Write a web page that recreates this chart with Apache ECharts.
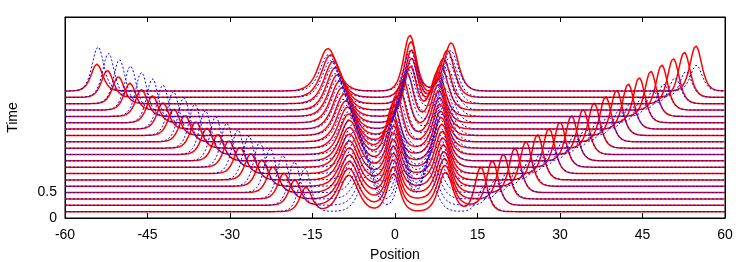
<!DOCTYPE html>
<html>
<head>
<meta charset="utf-8">
<script src="https://cdn.jsdelivr.net/npm/echarts@6/dist/echarts.min.js"></script>
<style>
html,body{margin:0;padding:0;background:#fff;}
#c{width:747px;height:262px;}
</style>
</head>
<body>
<div id="c"></div>
<script>
// ---- data (rows bottom -> top) ----
const rowOffsets = [0.125,0.25,0.375,0.5,0.625,0.75,0.875,1.0,1.125,1.25,1.375,1.5,1.625,1.75,1.875,2.0,2.125,2.25,2.375,2.5];

// red (solid) pulses: peak positions / amplitudes per row
const redLeftPos  = [-16.2,-18.2,-20.2,-22.2,-24.2,-26.2,-28.2,-30.2,-32.2,-34.2,-36.2,-38.2,-40.2,-42.2,-44.1,-46.1,-48.2,-50.3,-52.3,-54.2];
const redLeftAmp  = [0.48,0.50,0.51,0.51,0.52,0.52,0.52,0.52,0.52,0.52,0.52,0.52,0.52,0.52,0.53,0.53,0.53,0.53,0.53,0.53];
const redRightPos = [15.6,17.7,19.7,21.8,23.8,25.9,28.0,30.0,32.1,34.2,36.2,38.3,40.3,42.4,44.4,46.5,48.5,50.6,52.6,54.7];
const redRightAmp = [0.88,0.88,0.88,0.88,0.88,0.89,0.89,0.89,0.89,0.89,0.89,0.89,0.89,0.89,0.89,0.89,0.89,0.89,0.89,0.89];
const redC1Pos = [-8.4,-8.4,-8.3,-8.3,-8.3,-8.3,-8.3,-8.3,-8.3,-8.4,-8.6,-8.9,-9.2,-9.6,-10.0,-10.4,-10.8,-11.2,-11.7,-12.2];
const redC1Amp = [0.72,0.73,0.74,0.75,0.76,0.77,0.78,0.79,0.80,0.80,0.81,0.81,0.82,0.82,0.83,0.83,0.84,0.84,0.84,0.84];
const redC2Pos = [-0.3,-0.3,-0.3,-0.3,-0.3,-0.3,-0.3,-0.3,-0.4,-0.5,-0.3,0.2,0.8,1.5,2.2,2.8,3.0,3.0,2.9,2.7];
const redC2Amp = [0.75,0.76,0.77,0.78,0.79,0.80,0.81,0.82,0.83,0.85,0.88,0.91,0.94,0.96,0.98,0.98,1.02,1.06,1.10,1.10];
const redC3Pos = [9.2,9.1,9.0,8.9,8.8,8.7,8.6,8.5,8.4,8.3,8.2,8.1,8.0,7.9,7.8,7.8,8.3,8.8,9.5,10.2];
const redC3Amp = [0.78,0.79,0.80,0.81,0.82,0.83,0.84,0.85,0.86,0.86,0.87,0.87,0.88,0.88,0.88,0.88,0.89,0.89,0.93,0.95];

// blue (dotted) pulses
const blueLeftPos  = [-16.4,-18.3,-20.4,-22.7,-24.6,-26.6,-28.6,-30.6,-32.6,-34.5,-36.4,-38.4,-40.3,-42.2,-44.1,-46.1,-48.1,-50.1,-52.1,-54.0];
const blueLeftAmp  = [0.86,0.86,0.86,0.87,0.87,0.87,0.87,0.87,0.87,0.87,0.87,0.87,0.87,0.87,0.87,0.87,0.87,0.87,0.87,0.87];
const blueRightPos = [16.2,18.2,20.3,22.3,24.4,26.4,28.5,30.5,32.6,34.6,36.7,38.7,40.8,42.8,44.9,46.9,48.9,50.9,52.9,54.8];
const blueRightAmp = [0.50,0.50,0.51,0.51,0.51,0.51,0.51,0.51,0.51,0.51,0.51,0.51,0.51,0.51,0.51,0.51,0.51,0.51,0.51,0.51];
const blueC1Pos = [-5.0,-5.2,-5.5,-5.8,-6.1,-6.5,-6.9,-7.3,-7.7,-8.1,-8.5,-8.9,-9.3,-9.7,-10.1,-10.5,-10.9,-11.3,-11.7,-12.1];
const blueC2Pos = [1.5,1.4,1.3,1.2,1.0,0.8,0.6,0.4,0.3,0.2,0.4,0.8,1.2,1.6,2.0,2.3,2.5,2.7,2.8,2.8];
const blueC3Pos = [6.0,6.3,6.6,6.9,7.2,7.5,7.8,8.1,8.4,8.6,8.8,8.9,9.0,9.1,9.2,9.4,9.6,9.8,10.0,10.1];
const blueCAmp = [0.72,0.80,0.80];

const xTicks = [-60,-45,-30,-15,0,15,30,45,60];
const yTickLabels = [0,0.5];

// ---- build curves ----
function sech2(z){const c=Math.cosh(z);return 1/(c*c);}
function buildRow(i, pulses){
  const pts=[];
  for(let n=0;n<=1200;n++){
    const x=-60+n*0.1;
    let v=rowOffsets[i];
    for(const p of pulses) v+=p[1]*sech2((x-p[0])/p[2]);
    pts.push([x,v]);
  }
  return pts;
}
const series=[];
for(let i=0;i<rowOffsets.length;i++){
  series.push({type:'line',showSymbol:false,silent:true,z:2,
    lineStyle:{color:'#ff0000',width:1.5},
    data:buildRow(i,[[redLeftPos[i],redLeftAmp[i],1.4],[redRightPos[i],redRightAmp[i],1.4],
      [redC1Pos[i],redC1Amp[i],2.2],[redC2Pos[i],redC2Amp[i],1.5],[redC3Pos[i],redC3Amp[i],1.7]])});
}
for(let i=0;i<rowOffsets.length;i++){
  series.push({type:'line',showSymbol:false,silent:true,z:3,
    lineStyle:{color:'#0000ff',width:1,type:[2,2]},
    data:buildRow(i,[[blueLeftPos[i],blueLeftAmp[i],1.4],[blueRightPos[i],blueRightAmp[i],1.4],
      [blueC1Pos[i],blueCAmp[0],2.0],[blueC2Pos[i],blueCAmp[1],1.5],[blueC3Pos[i],blueCAmp[2],1.8]])});
}

const font='"Liberation Sans", Arial, sans-serif';
const chart=echarts.init(document.getElementById('c'),null,{renderer:'canvas'});
chart.setOption({
  animation:false,
  backgroundColor:'#fff',
  grid:{left:65,right:22,top:17,bottom:44,outerBoundsMode:'none',containLabel:false,
    show:true,borderColor:'#000',borderWidth:1,backgroundColor:'transparent'},
  xAxis:[{type:'value',min:-60,max:60,interval:15,position:'bottom',
    name:'Position',nameLocation:'middle',nameGap:30,nameTextStyle:{fontFamily:font,fontSize:14,color:'#000'},
    axisLine:{onZero:false,lineStyle:{color:'#000',width:1}},
    axisTick:{inside:true,length:5,lineStyle:{color:'#000'},customValues:xTicks},
    axisLabel:{fontFamily:font,fontSize:14,color:'#000',margin:10,customValues:xTicks},
    splitLine:{show:false}},
   {type:'value',min:-60,max:60,interval:15,position:'top',
    axisLine:{onZero:false,lineStyle:{color:'#000',width:1}},
    axisTick:{inside:true,length:5,lineStyle:{color:'#000'}},
    axisLabel:{show:false},splitLine:{show:false}}],
  yAxis:[{type:'value',min:0,max:3.957,position:'left',
    name:'Time',nameLocation:'middle',nameGap:45,nameRotate:90,nameTextStyle:{fontFamily:font,fontSize:14,color:'#000'},
    axisLine:{onZero:false,lineStyle:{color:'#000',width:1}},
    axisTick:{inside:true,length:6,lineStyle:{color:'#000'},customValues:[0.5]},
    axisLabel:{fontFamily:font,fontSize:14,color:'#000',margin:8,customValues:yTickLabels},
    splitLine:{show:false}},
   {type:'value',min:0,max:3.957,position:'right',
    axisLine:{onZero:false,lineStyle:{color:'#000',width:1}},
    axisTick:{inside:true,length:6,lineStyle:{color:'#000'},customValues:[0.5]},
    axisLabel:{show:false},splitLine:{show:false}}],
  series:series
});
</script>
</body>
</html>
